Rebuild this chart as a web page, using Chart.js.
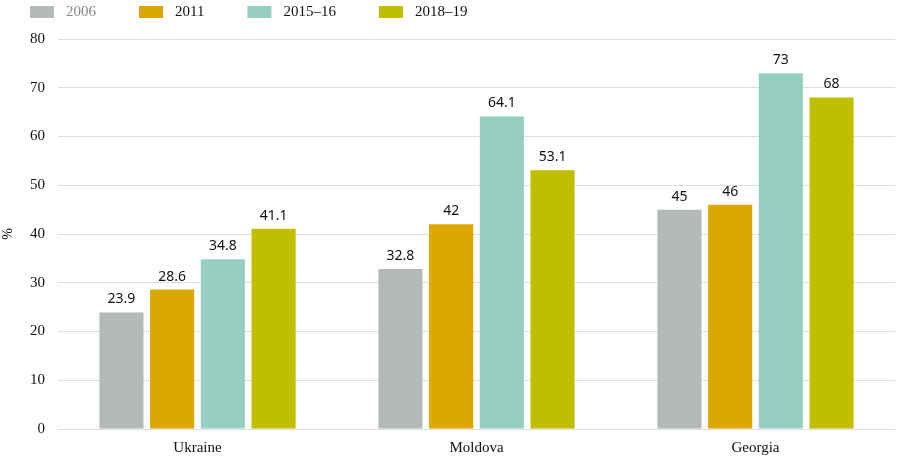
<!DOCTYPE html>
<html>
<head>
<meta charset="utf-8">
<script src="https://cdn.jsdelivr.net/npm/chart.js@4"></script>
<style>
  html, body { margin: 0; padding: 0; background: #fff; }
  #wrap { width: 915px; height: 470px; }
</style>
</head>
<body>
<div id="wrap"><canvas id="barChart"></canvas></div>
<script>
const countries = ["Ukraine", "Moldova", "Georgia"];
const seriesNames = ["2006", "2011", "2015–16", "2018–19"];
const values2006 = [23.9, 32.8, 45];
const values2011 = [28.6, 42, 46];
const values2015 = [34.8, 64.1, 73];
const values2018 = [41.1, 53.1, 68];
const yTicks = [0, 10, 20, 30, 40, 50, 60, 70, 80];

const colors = ["#b3bab9", "#dca800", "#96cfc1", "#c1be00"];
const serif = "'Liberation Serif', 'DejaVu Serif', serif";
const sans = "'Noto Sans', 'DejaVu Sans', sans-serif";

// labels above the bars
const valueLabels = {
    id: "valueLabels",
    afterDatasetsDraw(chart) {
        const ctx = chart.ctx;
        ctx.save();
        ctx.font = "14px " + sans;
        ctx.fillStyle = "#111";
        ctx.textAlign = "center";
        ctx.textBaseline = "bottom";
        chart.data.datasets.forEach((ds, i) => {
            chart.getDatasetMeta(i).data.forEach((bar, j) => {
                ctx.fillText(String(ds.data[j]), bar.x, bar.y - 6);
            });
        });
        ctx.restore();
    }
};

// legend row at the top left
const topLegend = {
    id: "topLegend",
    afterDraw(chart) {
        const ctx = chart.ctx;
        ctx.save();
        ctx.font = "15px " + serif;
        ctx.textBaseline = "middle";
        let x = 30;
        chart.data.datasets.forEach((ds, i) => {
            ctx.fillStyle = ds.backgroundColor;
            ctx.fillRect(x, 6, 24, 12);
            ctx.fillStyle = i === 0 ? "#888" : "#111";
            ctx.fillText(ds.label, x + 36, 12);
            x += 36 + ctx.measureText(ds.label).width + 43;
        });
        ctx.restore();
    }
};

const allValues = [values2006, values2011, values2015, values2018];

new Chart(document.getElementById("barChart"), {
    type: "bar",
    data: {
        labels: countries,
        datasets: seriesNames.map((name, i) => ({
            label: name,
            data: allValues[i],
            backgroundColor: colors[i],
            barPercentage: 0.87,
            categoryPercentage: 0.727
        }))
    },
    options: {
        responsive: true,
        maintainAspectRatio: false,
        animation: false,
        layout: { padding: { top: 39, right: 20, left: 0, bottom: 0 } },
        plugins: {
            legend: { display: false },
            tooltip: { enabled: false }
        },
        scales: {
            x: {
                grid: { display: false, drawTicks: false },
                border: { display: false },
                ticks: { color: "#111", font: { family: serif, size: 15 }, padding: 10 },
                afterFit(scale) { scale.height = 41; }
            },
            y: {
                min: 0,
                max: 80,
                afterBuildTicks(scale) { scale.ticks = yTicks.map(v => ({ value: v })); },
                grid: { color: "#dddddd", drawTicks: false, lineWidth: 1 },
                border: { display: false },
                ticks: { color: "#111", font: { family: serif, size: 15 }, padding: 13 },
                title: { display: true, text: "%", color: "#111", font: { family: serif, size: 14 }, padding: 0 },
                afterFit(scale) { scale.width = 58; }
            }
        }
    },
    plugins: [valueLabels, topLegend]
});
</script>
</body>
</html>
